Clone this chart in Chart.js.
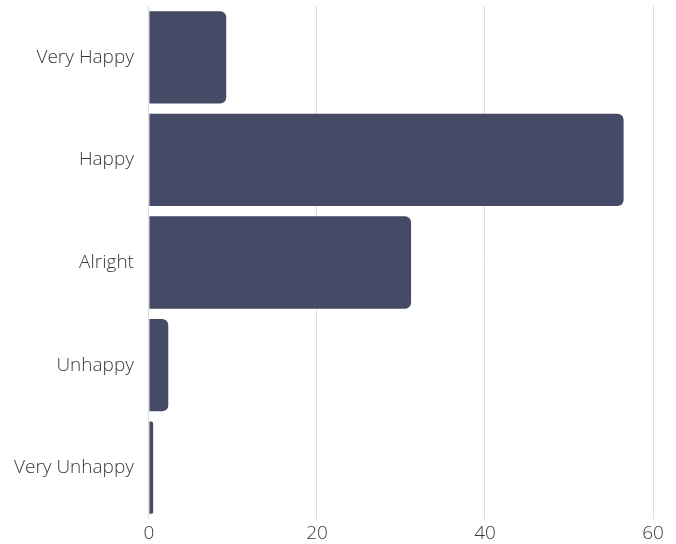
<!DOCTYPE html>
<html>
<head>
<meta charset="utf-8">
<script src="https://cdn.jsdelivr.net/npm/chart.js@4"></script>
<style>
  html, body { margin: 0; padding: 0; background: #fff; }
  #wrap { width: 676px; height: 544px; }
</style>
</head>
<body>
<div id="wrap"><canvas id="chart" width="676" height="544"></canvas></div>
<script>
    const CATEGORIES = ["Very Happy", "Happy", "Alright", "Unhappy", "Very Unhappy"];
    const VALUES = [9.2, 56.5, 31.2, 2.3, 0.5];
    const X_TICKS = [0, 20, 40, 60];

    const BAR_COLOR = "#454a66";
    const TEXT_COLOR = "#383838";
    const GRID_COLOR = "#dcdcdc";

    const font = { family: "'Open Sans', sans-serif", size: 19, weight: 300 };

    new Chart(document.getElementById("chart"), {
        type: "bar",
        data: {
            labels: CATEGORIES,
            datasets: [{
                data: VALUES,
                backgroundColor: BAR_COLOR,
                borderRadius: { topLeft: 0, bottomLeft: 0, topRight: 6, bottomRight: 6 },
                borderSkipped: false,
                barPercentage: 0.9,
                categoryPercentage: 1
            }]
        },
        options: {
            indexAxis: "y",
            responsive: false,
            animation: false,
            layout: { padding: { top: 6, right: 23, bottom: 0, left: 14 } },
            plugins: {
                legend: { display: false },
                tooltip: { enabled: false }
            },
            scales: {
                x: {
                    min: 0,
                    max: 60,
                    afterBuildTicks: axis => { axis.ticks = X_TICKS.map(v => ({ value: v })); },
                    // fit() counts the padding twice; keep the band tight so the plot reaches down
                    afterFit: axis => { axis.height = 25; },
                    ticks: { font: { ...font, lineHeight: 0.6 }, color: TEXT_COLOR, padding: 9 },
                    grid: { color: GRID_COLOR, drawTicks: false },
                    border: { display: false }
                },
                y: {
                    // the tick length makes the gap, so the label height does not push the plot down
                    ticks: { font: { ...font, lineHeight: 0.6 }, color: TEXT_COLOR, padding: 0 },
                    grid: { display: false, drawTicks: true, tickLength: 15 },
                    border: { display: false }
                }
            }
        }
    });
</script>
</body>
</html>
